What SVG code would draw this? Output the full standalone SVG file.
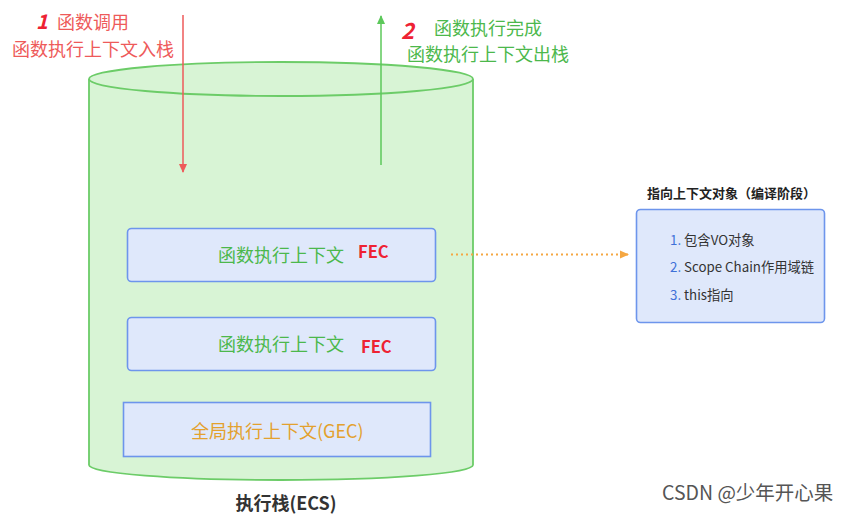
<svg xmlns="http://www.w3.org/2000/svg" width="849" height="514" viewBox="0 0 849 514">
<style>
text{font-family:"Noto Sans CJK SC","Noto Sans",sans-serif}
.red{fill:#ee5a5a;font-size:18px}
.grn{fill:#4cb84c;font-size:18px}
.ctx{fill:#dfe8fb;stroke:#6d95ec;stroke-width:1.6}
.fec{fill:#ee2233;font-size:16.5px;font-weight:bold}
.lst{font-size:13.3px;fill:#333}
.num{fill:#3e70d8}
</style>
<defs>
<marker id="ar" markerWidth="10" markerHeight="10" refX="8" refY="5" orient="auto" markerUnits="userSpaceOnUse"><path d="M0,1 L9,5 L0,9 Z" fill="#ee5a5a"/></marker>
<marker id="ag" markerWidth="10" markerHeight="10" refX="8" refY="5" orient="auto" markerUnits="userSpaceOnUse"><path d="M0,1 L9,5 L0,9 Z" fill="#5cc85a"/></marker>
<marker id="ao" markerWidth="10" markerHeight="10" refX="8" refY="5" orient="auto" markerUnits="userSpaceOnUse"><path d="M0,1 L9,5 L0,9 Z" fill="#f5a742"/></marker>
</defs>
<rect width="849" height="514" fill="#fff"/>
<g id="stack">
<path d="M89,79 L89,465 A192,15 0 0 0 473,465 L473,79" fill="#d8f4d5" stroke="#6ccc68" stroke-width="1.8"/>
<ellipse cx="281" cy="79" rx="192" ry="17" fill="#d8f4d5" stroke="#6ccc68" stroke-width="1.8"/>
<text x="286" y="510" text-anchor="middle" font-size="18" font-weight="bold" fill="#333">执行栈(ECS)</text>
</g>
<g id="fec1">
<rect class="ctx" x="127.5" y="228.5" width="308" height="53" rx="4"/>
<text class="grn" x="218" y="262">函数执行上下文</text>
<text class="fec" x="358" y="258">FEC</text>
</g>
<g id="fec2">
<rect class="ctx" x="127.5" y="317.5" width="308" height="53" rx="4"/>
<text class="grn" x="218" y="351">函数执行上下文</text>
<text class="fec" x="361" y="353">FEC</text>
</g>
<g id="gec">
<rect class="ctx" x="123.5" y="402.5" width="307" height="54"/>
<text x="191" y="438" font-size="18" fill="#e3a12e">全局执行上下文(GEC)</text>
</g>
<g id="labels">
<text x="36" y="29" fill="#ee2233" font-size="20" font-weight="bold" font-style="italic">1</text>
<text class="red" x="57" y="29">函数调用</text>
<text class="red" x="12" y="56">函数执行上下文入栈</text>
<text x="401" y="39" fill="#ee2233" font-size="22" font-weight="bold" font-style="italic">2</text>
<text class="grn" x="434" y="35">函数执行完成</text>
<text class="grn" x="407" y="61">函数执行上下文出栈</text>
</g>
<g id="scope">
<text x="647" y="198" font-size="13" font-weight="bold" fill="#222">指向上下文对象（编译阶段）</text>
<rect class="ctx" x="636.5" y="209.5" width="188" height="113" rx="4"/>
<text class="lst" x="670" y="245"><tspan class="num">1.</tspan> 包含VO对象</text>
<text class="lst" x="670" y="272"><tspan class="num">2.</tspan> Scope Chain作用域链</text>
<text class="lst" x="670" y="300"><tspan class="num">3.</tspan> this指向</text>
</g>
<g id="connectors">
<line x1="183" y1="15" x2="183" y2="172" stroke="#ee5a5a" stroke-width="1.5" marker-end="url(#ar)"/>
<line x1="381" y1="165" x2="381" y2="16" stroke="#5cc85a" stroke-width="1.5" marker-end="url(#ag)"/>
<line x1="451" y1="254.5" x2="628" y2="254.5" stroke="#f5a742" stroke-width="1.8" stroke-dasharray="2,3" marker-end="url(#ao)"/>
</g>
<text x="662" y="500" font-size="19.5" fill="#555" font-family="'Liberation Sans','Noto Sans CJK SC',sans-serif">CSDN @少年开心果</text>
</svg>
